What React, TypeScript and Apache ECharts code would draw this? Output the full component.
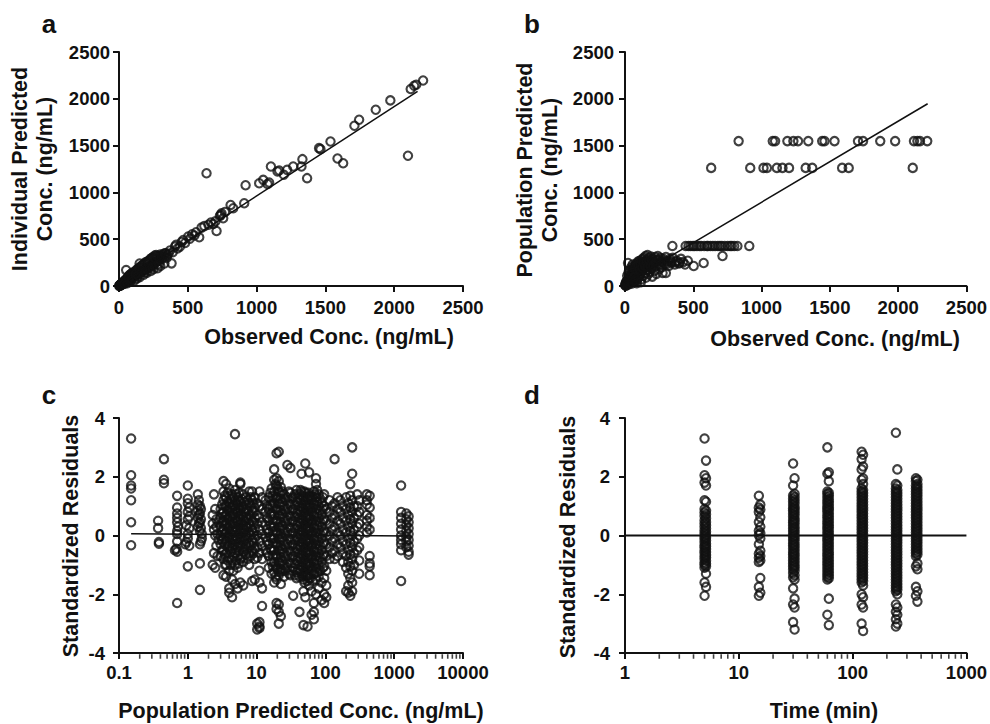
import React, { useEffect, useRef } from "react";
import * as echarts from "echarts";

// ---------- Panel a: Observed vs Individual Predicted ----------
const denseA: [number, number][] = [
  [2, 4], [3, 1], [5, 8], [6, 3], [8, 12], [10, 6], [12, 18], [14, 10], [15, 22], [18, 14], [20, 28], [22, 17],
  [25, 35], [27, 22], [30, 40], [32, 26], [35, 48], [38, 30], [40, 55], [42, 36], [45, 62], [48, 40], [50, 70],
  [52, 170], [55, 45], [58, 78], [60, 52], [62, 90], [65, 58], [68, 95], [70, 62], [72, 110], [75, 68], [78, 120],
  [80, 75], [85, 105], [88, 130], [90, 80], [95, 115], [98, 140], [100, 92], [105, 125], [110, 150], [112, 60],
  [115, 108], [120, 160], [125, 118], [130, 175], [135, 125], [140, 190], [145, 135], [150, 240], [152, 200],
  [155, 148], [160, 210], [165, 155], [170, 225], [175, 160], [180, 235], [185, 172], [190, 250], [195, 180],
  [200, 255], [205, 190], [210, 265], [215, 200], [220, 275], [225, 210], [230, 290], [235, 215], [240, 300],
  [245, 225], [250, 310], [255, 240], [260, 325], [265, 250], [270, 330], [275, 258], [280, 320], [290, 270],
  [300, 335], [310, 290], [320, 340], [330, 310], [340, 350], [350, 330], [360, 345],
  [60, 30], [80, 45], [130, 80], [150, 95], [180, 120], [200, 140], [230, 160], [250, 180], [280, 190], [300, 215], [330, 240],
  [40, 25], [70, 85], [95, 70], [120, 130], [140, 110], [170, 190], [190, 150], [215, 240], [240, 200], [265, 290], [290, 235],
  [310, 320], [345, 300], [370, 380], [390, 360], [415, 440], [425, 400], [455, 470], [480, 460],
];
const sparseA: [number, number][] = [
  [293, 307], [334, 349], [382, 242], [407, 421], [443, 421], [467, 492], [503, 528], [532, 553], [583, 521],
  [600, 624], [668, 678], [685, 663], [709, 588], [733, 749], [745, 777], [757, 724], [811, 866], [830, 831],
  [910, 884], [920, 1077], [636, 1205], [1019, 1098], [1048, 1134], [1080, 1090], [1091, 1105], [1104, 1277],
  [1152, 1223], [1164, 1234], [1198, 1188], [1222, 1241], [1266, 1277], [1326, 1277], [1333, 1355], [1367, 1152],
  [1454, 1473], [1464, 1462], [1537, 1544], [1588, 1362], [1629, 1312], [1711, 1712], [1745, 1776], [1866, 1883],
  [1972, 1983], [2100, 1391], [2120, 2105], [2145, 2140], [2160, 2150], [2210, 2195],
  [515, 505], [548, 540], [560, 575], [620, 640], [650, 655], [700, 690], [740, 760], [770, 790],
];
const fitLineA: [number, number][] = [[0, 5], [2170, 2080]];

// ---------- Panel b: Observed vs Population Predicted ----------
const clusterB: [number, number][] = [
  [2, 5], [3, 18], [4, 10], [5, 30], [6, 2], [8, 15], [9, 45], [10, 28], [12, 8], [14, 55], [15, 40], [18, 22],
  [20, 62], [22, 246], [24, 35], [26, 75], [28, 50], [30, 18], [32, 90], [35, 58], [38, 105], [40, 40], [42, 80],
  [45, 120], [48, 65], [50, 150], [52, 28], [55, 100], [58, 175], [60, 70], [62, 130], [65, 205], [68, 48],
  [70, 160], [72, 110], [75, 225], [78, 85], [80, 190], [82, 140], [85, 240], [88, 60], [90, 175], [92, 115],
  [95, 260], [98, 205], [100, 150], [102, 90], [105, 230], [108, 270], [110, 185], [112, 125], [115, 250],
  [118, 70], [120, 210], [125, 285], [128, 160], [130, 235], [135, 110], [138, 300], [140, 195], [145, 260],
  [148, 140], [150, 320], [152, 225], [155, 90], [160, 280], [162, 175], [165, 331], [168, 240], [170, 125],
  [175, 300], [178, 205], [180, 150], [185, 265], [190, 315], [192, 185], [195, 230], [200, 100], [205, 290],
  [210, 250], [215, 160], [220, 310], [225, 210], [230, 130], [235, 275], [240, 320], [245, 235], [250, 180],
  [258, 300], [265, 260], [270, 200], [275, 139], [280, 290], [290, 240], [299, 139], [300, 310], [310, 265],
  [320, 215], [330, 290], [340, 250], [350, 300], [365, 230], [380, 270], [395, 240], [410, 290], [425, 255],
  [440, 230], [460, 270], [503, 214], [576, 246], [714, 321],
  [16, 110], [25, 140], [36, 170], [46, 200], [56, 230], [66, 95], [76, 60], [86, 30], [96, 215], [106, 170],
  [116, 40], [126, 195], [136, 250], [146, 215], [156, 250], [166, 205], [176, 270], [186, 220], [196, 280],
  [206, 215], [226, 255], [246, 280], [262, 230], [285, 265], [305, 235], [335, 265], [370, 255], [400, 250],
];
const predLevelsB = [428, 1262, 1548];
const obsAtLevelsB: number[][] = [
  [347, 444, 465, 481, 498, 510, 527, 545, 558, 580, 600, 607, 625, 643, 660, 680, 695, 709, 730, 752, 770, 782, 800, 823, 910],
  [631, 917, 1014, 1039, 1112, 1153, 1201, 1323, 1371, 1590, 1638, 2107],
  [832, 1082, 1099, 1189, 1233, 1267, 1342, 1444, 1461, 1534, 1706, 1743, 1869, 1978, 2116, 2141, 2160, 2213],
];
const fitLineB: [number, number][] = [[0, 30], [2216, 1947]];

// ---------- Panel c: Standardized residuals vs Population Predicted ----------
const lowPredC: [number, number][] = [
  [0.15, 3.3], [0.15, 2.05], [0.15, 1.7], [0.15, 1.6], [0.15, 1.2], [0.15, 0.45], [0.15, -0.33],
  [0.37, 0.5], [0.37, 0.25], [0.38, -0.22], [0.38, -0.28], [0.45, 2.6], [0.45, 1.9], [0.45, 1.78],
  [0.65, -0.5], [0.7, 1.35], [0.7, 0.95], [0.7, 0.75], [0.7, 0.45], [0.7, 0.15], [0.7, -0.2], [0.7, -0.55],
  [0.7, -2.3], [0.72, 0.3], [0.68, -0.45], [0.7, 0.6], [0.7, 0.05],
  [0.92, -0.3], [0.95, 0.35], [0.95, -0.22], [1.0, 1.7], [1.0, 1.25], [1.0, 1.1], [1.0, 0.8], [1.0, 0.55],
  [1.0, 0.05], [1.0, -0.1], [1.0, -1.05], [1.05, 0.25], [1.05, -0.35], [1.05, 0.95], [1.05, 0.65],
  [1.4, 1.4], [1.4, 1.05], [1.4, 0.85], [1.4, 0.6], [1.4, 0.3], [1.5, 1.0], [1.5, 0.75], [1.5, 0.45],
  [1.5, 0.15], [1.5, -0.3], [1.5, -0.95], [1.5, -1.85], [1.55, 0.9], [1.55, -0.2], [1.6, 0.05],
  [1.45, 1.2], [1.45, 0.7], [1.45, 0.4], [1.55, 0.55], [1.55, 0.25], [1.6, -0.1],
  [2.3, 0.7], [2.3, 0.4], [2.3, -1.0], [2.4, 1.4], [2.4, 0.2], [2.4, -0.6], [2.5, -1.1], [2.6, 0.55],
  [2.6, -0.35], [2.7, 0.05], [2.7, -0.7], [2.5, 0.9], [2.5, 0.0], [2.6, 0.3], [2.8, 0.45], [2.8, -0.15],
];
const bandC: [number, number[]][] = [
  [3.0, [0.9, 0.6, 0.3, 0.0, -0.3, -0.7]],
  [3.3, [1.85, 1.5, 1.2, 0.8, 0.5, 0.2, -0.1, -0.5, -0.8, -1.35]],
  [3.6, [1.75, 1.3, 1.0, 0.7, 0.4, 0.1, -0.2, -0.6, -1.0, -1.4]],
  [4.0, [1.6, 1.1, 0.85, 0.55, 0.25, -0.05, -0.35, -0.75, -1.2, -1.8, -1.95]],
  [4.4, [1.4, 1.0, 0.7, 0.4, 0.15, -0.15, -0.45, -0.85, -1.5, -2.1]],
  [4.85, [3.45, 1.55, 1.2, 0.9, 0.6, 0.3, 0.0, -0.3, -0.6, -1.0, -1.65]],
  [5.3, [1.3, 1.05, 0.75, 0.45, 0.2, -0.1, -0.4, -0.7, -1.1, -1.8]],
  [5.8, [1.8, 1.75, 1.15, 0.85, 0.55, 0.25, -0.05, -0.35, -0.8, -1.6]],
  [6.4, [1.4, 1.0, 0.65, 0.35, 0.1, -0.2, -0.55, -0.9, -1.7]],
  [7.0, [1.3, 0.9, 0.6, 0.3, 0.0, -0.3, -0.65]],
  [7.8, [1.5, 1.1, 0.7, 0.4, 0.1, -0.25, -0.6, -1.0]],
  [8.6, [1.5, 1.2, 0.85, 0.5, 0.2, -0.15, -0.5, -1.55]],
  [9.4, [1.3, 0.95, 0.6, 0.25, -0.1, -0.45, -0.8, -1.5]],
  [10.2, [1.1, 0.7, 0.4, 0.0, -0.4, -0.75, -3.2, -3.0]],
  [11.0, [1.5, 1.0, 0.6, 0.2, -0.2, -0.6, -1.2, -1.6, -2.95, -3.15, -3.1]],
  [12.0, [1.3, 0.9, 0.45, 0.05, -0.35, -0.8, -1.8, -2.4]],
  [13.5, [1.2, 0.8, 0.35, -0.05, -0.5]],
  [15.0, [1.3, 0.9, 0.5, 0.1, -0.3, -0.7, -1.1]],
  [16.5, [1.6, 1.2, 0.75, 0.3, -0.1, -0.5, -0.9, -1.3]],
  [18.0, [2.25, 1.9, 1.5, 1.1, 0.7, 0.3, -0.1, -0.5, -0.9, -1.25, -1.6]],
  [19.5, [2.8, 1.95, 1.7, 1.3, 0.9, 0.5, 0.1, -0.3, -0.7, -1.1, -1.5, -2.3, -2.5]],
  [21.0, [2.85, 1.85, 1.5, 1.1, 0.7, 0.3, -0.1, -0.5, -0.9, -1.35, -2.35, -2.6, -3.0]],
  [22.5, [1.65, 1.25, 0.85, 0.45, 0.05, -0.35, -0.75, -1.15, -1.65, -2.75]],
  [25.0, [1.4, 1.0, 0.6, 0.2, -0.2, -0.6, -1.0, -1.4]],
  [28.0, [2.4, 1.3, 0.9, 0.5, 0.1, -0.3, -0.7, -1.1]],
  [31.0, [2.3, 1.45, 1.05, 0.65, 0.25, -0.15, -0.55, -0.95, -1.35]],
  [34.0, [1.3, 0.9, 0.5, 0.1, -0.3, -0.7, -1.1, -2.05]],
  [38.0, [1.55, 1.15, 0.75, 0.35, -0.05, -0.45, -0.85, -1.25, -1.45]],
  [42.0, [1.4, 1.0, 0.6, 0.2, -0.2, -0.6, -1.0, -1.4, -2.6]],
  [45.0, [2.1, 1.5, 1.1, 0.7, 0.3, -0.1, -0.5, -0.9, -1.3]],
  [48.0, [1.3, 0.9, 0.5, 0.1, -0.3, -0.7, -1.1, -1.5, -3.05, -1.9]],
  [51.0, [2.45, 1.45, 1.05, 0.65, 0.25, -0.15, -0.55, -0.95, -1.35, -2.1]],
  [55.0, [1.25, 0.85, 0.45, 0.05, -0.35, -0.75, -1.15, -1.55, -3.1]],
  [58.0, [2.15, 1.35, 0.95, 0.55, 0.15, -0.25, -0.65, -1.05, -1.45, -1.7]],
  [63.0, [1.2, 0.8, 0.4, 0.0, -0.4, -0.8, -1.2, -2.7, -1.9]],
  [68.0, [1.5, 1.1, 0.7, 0.3, -0.1, -0.5, -0.9, -1.3, -2.6, -2.85, -2.3]],
  [73.0, [1.95, 1.75, 1.3, 0.9, 0.5, 0.1, -0.3, -0.7, -1.1, -1.5, -2.0]],
  [80.0, [1.4, 1.0, 0.6, 0.2, -0.2, -0.6, -1.0, -1.4, -1.8]],
  [88.0, [1.1, 0.7, 0.3, -0.1, -0.5, -0.9, -1.6, -2.2]],
  [96.0, [1.4, 1.0, 0.55, 0.15, -0.25, -0.65, -1.05, -1.45, -2.0, -2.3]],
  [103, [0.9, 0.5, 0.1, -0.3, -0.7, -1.2, -1.7, -2.1]],
  [115, [1.2, 0.8, 0.4, 0.0, -0.4, -0.8]],
  [125, [1.0, 0.6, 0.2, -0.2, -0.6]],
  [136, [2.6, 1.1, 0.7, 0.3, -0.1, -0.5, -0.8]],
  [150, [1.3, 0.9, 0.5, 0.1, -0.3, -0.7]],
  [165, [1.2, 0.8, 0.4, 0.0, -0.4]],
  [180, [1.0, 0.6, 0.2, -0.2, -0.6, -0.9]],
  [200, [1.3, 0.9, 0.5, 0.1, -0.3, -0.7, -1.1, -1.9]],
  [215, [1.1, 0.7, 0.3, -0.1, -0.5, -0.9, -1.3, -1.95, -1.7]],
  [230, [1.75, 1.35, 0.95, 0.55, 0.15, -0.25, -0.65, -1.05, -1.45, -2.05]],
  [245, [3.0, 2.1, 1.2, 0.8, 0.4, 0.0, -0.4, -0.8, -1.2, -1.6, -1.9]],
  [260, [1.0, 0.6, 0.2, -0.2, -0.6, -1.0]],
  [290, [1.4, 1.0, 0.7, 0.3, -0.1, -0.5]],
  [310, [1.2, 0.8, 0.4, 0.0, -0.4, -0.85, -1.3]],
  [400, [1.4, 1.2, 1.05, 0.7, 0.5, 0.3, 0.1]],
  [440, [1.35, 0.95, 0.6, 0.2, -0.7, -0.95, -1.05, -1.35]],
  [1260, [1.7, 0.8, 0.6, 0.4, 0.2, 0.0, -0.15, -0.3, -0.5, -1.55]],
  [1500, [0.75, 0.55, 0.35, 0.15, -0.05, -0.2, -0.4]],
  [1620, [0.65, 0.45, 0.25, 0.05, -0.15, -0.35, -0.55, -0.65]],
];
const bandFillC: [number, number[]][] = [
  [3.15, [1.05, 0.75, 0.45, 0.15, -0.15, -0.5]],
  [3.45, [1.35, 1.0, 0.65, 0.35, 0.05, -0.3, -0.65, -1.0]],
  [3.8, [1.45, 1.15, 0.85, 0.55, 0.25, -0.05, -0.4, -0.85]],
  [4.2, [1.25, 0.95, 0.65, 0.35, 0.05, -0.25, -0.55, -1.0]],
  [4.6, [1.3, 1.05, 0.75, 0.45, 0.2, -0.1, -0.35, -0.7, -1.2]],
  [5.05, [1.4, 1.1, 0.8, 0.5, 0.15, -0.15, -0.5, -0.85]],
  [5.55, [1.45, 1.2, 0.95, 0.65, 0.35, 0.05, -0.25, -0.55, -0.95]],
  [6.1, [1.25, 0.95, 0.7, 0.45, 0.2, -0.1, -0.4, -0.75]],
  [6.7, [1.15, 0.8, 0.5, 0.2, -0.1, -0.45]],
  [7.4, [1.2, 0.85, 0.55, 0.25, -0.1, -0.45, -0.8]],
  [8.2, [1.3, 1.0, 0.65, 0.3, 0.0, -0.35, -0.7]],
  [9.0, [1.1, 0.8, 0.45, 0.1, -0.25, -0.6]],
  [14.2, [1.0, 0.6, 0.2, -0.2, -0.6]],
  [15.8, [1.45, 1.05, 0.7, 0.35, -0.05, -0.45]],
  [17.2, [1.35, 1.0, 0.55, 0.15, -0.25, -0.7, -1.05]],
  [18.8, [1.75, 1.3, 0.9, 0.5, 0.15, -0.25, -0.65, -1.05, -1.4]],
  [20.2, [1.6, 1.25, 0.85, 0.45, 0.05, -0.35, -0.75, -1.15]],
  [21.8, [1.45, 1.05, 0.65, 0.25, -0.15, -0.55, -0.95, -1.25]],
  [23.7, [1.5, 1.15, 0.75, 0.35, -0.05, -0.45, -0.85, -1.2]],
  [26.5, [1.2, 0.8, 0.4, 0.0, -0.4, -0.8, -1.2]],
  [29.5, [1.5, 1.1, 0.7, 0.3, -0.1, -0.5, -0.9, -1.3]],
  [32.5, [1.25, 0.85, 0.45, 0.05, -0.35, -0.75, -1.2]],
  [36.0, [1.4, 1.05, 0.65, 0.25, -0.15, -0.55, -0.95, -1.35]],
  [40.0, [1.25, 0.85, 0.45, 0.05, -0.35, -0.75, -1.15]],
  [43.5, [1.55, 1.2, 0.8, 0.4, 0.0, -0.4, -0.8, -1.2]],
  [46.5, [1.35, 0.95, 0.55, 0.15, -0.25, -0.65, -1.05, -1.4]],
  [49.5, [1.5, 1.15, 0.75, 0.35, -0.05, -0.45, -0.85, -1.25, -1.6]],
  [53.0, [1.3, 0.95, 0.6, 0.2, -0.2, -0.6, -1.0, -1.4]],
  [56.5, [1.45, 1.05, 0.65, 0.25, -0.15, -0.55, -0.95, -1.35]],
  [60.5, [1.35, 1.0, 0.6, 0.2, -0.2, -0.6, -1.0, -1.45]],
  [65.5, [1.3, 0.95, 0.5, 0.1, -0.3, -0.7, -1.1, -1.55]],
  [70.5, [1.4, 1.05, 0.65, 0.25, -0.15, -0.55, -0.95, -1.3]],
  [76.0, [1.55, 1.15, 0.75, 0.35, -0.05, -0.45, -0.85, -1.25]],
  [84.0, [1.25, 0.85, 0.45, 0.05, -0.35, -0.75, -1.2]],
  [92.0, [1.3, 0.9, 0.5, 0.1, -0.3, -0.7, -1.1]],
];
const trendLineC: [number, number][] = [[0.15, 0.057], [1680, -0.02]];

// ---------- Panel d: Standardized residuals vs Time ----------
// each nominal time has two recorded sampling times (slightly different)
const timesD: [number, number][] = [[5, 5.15], [15, 15.45], [30, 30.9], [60, 61.8], [120, 123.6], [240, 247], [360, 371]];
const residByTimeD: number[][] = [
  [3.3, 2.55, 2.05, 1.95, 1.8, 1.7, 1.2, 1.15, 0.9, 0.84, 0.78, 0.72, 0.66, 0.59, 0.52, 0.46, 0.41, 0.35, 0.3, 0.24, 0.18, 0.13, 0.08, 0.02, -0.03, -0.08, -0.12, -0.17, -0.22, -0.28, -0.33, -0.37, -0.41, -0.46, -0.52, -0.56, -0.6, -0.66, -0.71, -0.75, -0.8, -0.86, -0.92, -0.96, -1.0, -1.05, -1.1, -1.3, -1.6, -1.75, -2.05],
  [1.35, 1.05, 0.95, 0.88, 0.8, 0.62, 0.46, 0.3, 0.16, 0.08, 0.02, -0.1, -0.3, -0.52, -0.62, -0.7, -0.76, -0.85, -0.9, -1.45, -1.75, -1.95, -2.05],
  [2.45, 1.95, 1.7, 1.42, 1.36, 1.31, 1.25, 1.2, 1.15, 1.1, 1.04, 0.98, 0.93, 0.89, 0.84, 0.79, 0.74, 0.7, 0.64, 0.58, 0.53, 0.49, 0.44, 0.4, 0.35, 0.29, 0.25, 0.2, 0.15, 0.1, 0.05, -0.01, -0.05, -0.1, -0.15, -0.2, -0.26, -0.31, -0.35, -0.4, -0.45, -0.5, -0.56, -0.61, -0.65, -0.7, -0.75, -0.8, -0.85, -0.9, -0.95, -1.01, -1.05, -1.1, -1.15, -1.2, -1.28, -1.35, -1.42, -1.5, -1.8, -2.15, -2.35, -2.45, -2.95, -3.2],
  [3.0, 2.15, 2.1, 1.85, 1.5, 1.45, 1.41, 1.35, 1.3, 1.24, 1.19, 1.15, 1.1, 1.05, 0.99, 0.95, 0.9, 0.86, 0.81, 0.75, 0.7, 0.65, 0.6, 0.55, 0.49, 0.45, 0.4, 0.35, 0.3, 0.26, 0.21, 0.15, 0.1, 0.05, 0.0, -0.05, -0.1, -0.14, -0.19, -0.25, -0.3, -0.35, -0.4, -0.45, -0.5, -0.56, -0.61, -0.65, -0.7, -0.75, -0.8, -0.85, -0.9, -0.95, -1.0, -1.05, -1.1, -1.15, -1.2, -1.25, -1.3, -1.35, -1.4, -1.45, -1.5, -2.15, -2.7, -3.05],
  [2.85, 2.75, 2.6, 2.35, 2.25, 1.95, 1.9, 1.75, 1.6, 1.55, 1.5, 1.45, 1.4, 1.35, 1.3, 1.25, 1.2, 1.15, 1.1, 1.05, 1.0, 0.95, 0.9, 0.85, 0.8, 0.75, 0.7, 0.65, 0.6, 0.55, 0.5, 0.45, 0.4, 0.35, 0.3, 0.25, 0.2, 0.15, 0.1, 0.05, 0.0, -0.05, -0.1, -0.15, -0.2, -0.25, -0.3, -0.35, -0.4, -0.45, -0.5, -0.55, -0.6, -0.65, -0.7, -0.75, -0.8, -0.85, -0.9, -0.95, -1.0, -1.05, -1.1, -1.15, -1.2, -1.25, -1.3, -1.35, -1.4, -1.45, -1.5, -1.55, -1.6, -1.7, -2.0, -2.1, -2.35, -2.45, -3.0, -3.25],
  [3.5, 2.25, 1.75, 1.7, 1.6, 1.55, 1.5, 1.45, 1.4, 1.35, 1.3, 1.25, 1.2, 1.15, 1.1, 1.05, 1.0, 0.95, 0.9, 0.85, 0.8, 0.75, 0.7, 0.65, 0.6, 0.55, 0.5, 0.45, 0.4, 0.35, 0.3, 0.25, 0.2, 0.15, 0.1, 0.05, 0.0, -0.05, -0.1, -0.15, -0.2, -0.25, -0.3, -0.35, -0.4, -0.45, -0.5, -0.55, -0.6, -0.65, -0.7, -0.75, -0.8, -0.85, -0.9, -0.95, -1.0, -1.05, -1.1, -1.15, -1.2, -1.25, -1.3, -1.35, -1.4, -1.45, -1.5, -1.55, -1.6, -1.65, -1.7, -1.75, -1.8, -1.85, -1.9, -2.0, -2.35, -2.45, -2.6, -2.7, -2.85, -3.0, -3.1],
  [1.95, 1.9, 1.85, 1.75, 1.7, 1.65, 1.6, 1.55, 1.5, 1.45, 1.4, 1.35, 1.3, 1.25, 1.2, 1.15, 1.1, 1.05, 1.0, 0.95, 0.9, 0.85, 0.8, 0.75, 0.7, 0.65, 0.6, 0.55, 0.5, 0.45, 0.4, 0.35, 0.3, 0.25, 0.2, 0.15, 0.1, 0.05, 0.0, -0.05, -0.1, -0.15, -0.2, -0.25, -0.3, -0.35, -0.4, -0.45, -0.5, -0.55, -0.6, -0.65, -0.7, -0.95, -1.05, -1.15, -1.75, -1.9, -2.05, -2.25],
];
const zeroLineD: [number, number][] = [[1, 0], [1000, 0]];

// ---------- Axis decorations ----------
const minorMultipliers = [2, 3, 4, 5, 6, 7, 8, 9];
const decadesC = [0.1, 1, 10, 100, 1000];
const decadesD = [1, 10, 100];

const INK = "#111111";
const FONT = "'Liberation Sans', Arial, sans-serif";

function fmtNum(v: number) {
  if (Math.abs(v) < 1 && v !== 0) return String(+v.toFixed(2));
  return String(Math.round(v));
}

function axisBase(gridIndex: number, margin: number) {
  return {
    gridIndex,
    axisLine: { show: true, onZero: false, lineStyle: { color: INK, width: 2 } },
    axisTick: { show: true, length: 6, inside: false, lineStyle: { color: INK, width: 2 } },
    splitLine: { show: false },
    minorTick: { show: false },
    axisLabel: {
      color: INK,
      fontFamily: FONT,
      fontWeight: "bold" as const,
      fontSize: 18.5,
      margin,
      formatter: fmtNum,
    },
  };
}

const circleStyle = {
  type: "scatter" as const,
  symbol: "circle",
  symbolSize: 8.4,
  itemStyle: { color: "rgba(0,0,0,0)", borderColor: INK, borderWidth: 2.1 },
  silent: true,
  clip: false,
};

function label(x: number, y: number, text: string, size: number, rotation = 0) {
  return {
    type: "text",
    x,
    y,
    rotation,
    silent: true,
    style: {
      text,
      fill: INK,
      font: `bold ${size}px ${FONT}`,
      textAlign: "center",
      textVerticalAlign: "middle",
      align: "center",
      verticalAlign: "middle",
      lineHeight: 25,
    },
  };
}

export default function App() {
  const ref = useRef<HTMLDivElement>(null);

  useEffect(() => {
    if (!ref.current) return;
    const chart = echarts.init(ref.current, undefined, { renderer: "svg" });

    const minorC: [number, number][] = [];
    decadesC.forEach((d) => minorMultipliers.forEach((m) => minorC.push([d * m, -4])));
    const minorD: [number, number][] = [];
    decadesD.forEach((d) => minorMultipliers.forEach((m) => minorD.push([d * m, -4])));

    const levelPointsB: [number, number][] = [];
    predLevelsB.forEach((lvl, i) => obsAtLevelsB[i].forEach((o) => levelPointsB.push([o, lvl])));

    const bandPointsC: [number, number][] = [];
    bandC.forEach(([x, ys]) => ys.forEach((y) => bandPointsC.push([x, y])));
    bandFillC.forEach(([x, ys]) => ys.forEach((y) => bandPointsC.push([x, y])));

    const pointsD: [number, number][] = [];
    timesD.forEach((ts, i) => residByTimeD[i].forEach((r, j) => pointsD.push([ts[j % 2], r])));

    const lineStyle = (w: number) => ({
      type: "line" as const,
      symbol: "none",
      silent: true,
      lineStyle: { color: INK, width: w },
      clip: false,
    });

    const tickMarks = (xAxisIndex: number, yAxisIndex: number, data: [number, number][]) => ({
      type: "scatter" as const,
      xAxisIndex,
      yAxisIndex,
      data,
      symbol: "rect",
      symbolSize: [1.6, 4.5],
      symbolOffset: [0, 3.5],
      itemStyle: { color: INK },
      silent: true,
      clip: false,
      z: 5,
    });

    chart.setOption({
      animation: false,
      backgroundColor: "#ffffff",
      grid: [
        { left: 119, top: 52, width: 344, height: 234 },
        { left: 625, top: 52, width: 343, height: 234 },
        { left: 119, top: 418, width: 344, height: 235 },
        { left: 625, top: 418, width: 343, height: 235 },
      ],
      xAxis: [
        { ...axisBase(0, 12), type: "value", min: 0, max: 2500, interval: 500 },
        { ...axisBase(1, 12), type: "value", min: 0, max: 2500, interval: 500 },
        { ...axisBase(2, 10), type: "log", logBase: 10, min: 0.1, max: 10000 },
        { ...axisBase(3, 10), type: "log", logBase: 10, min: 1, max: 1000 },
      ],
      yAxis: [
        { ...axisBase(0, 9), type: "value", min: 0, max: 2500, interval: 500 },
        { ...axisBase(1, 11), type: "value", min: 0, max: 2500, interval: 500 },
        { ...axisBase(2, 14), type: "value", min: -4, max: 4, interval: 2 },
        { ...axisBase(3, 15), type: "value", min: -4, max: 4, interval: 2 },
      ],
      series: [
        { ...circleStyle, xAxisIndex: 0, yAxisIndex: 0, data: denseA },
        { ...circleStyle, xAxisIndex: 0, yAxisIndex: 0, data: sparseA },
        { ...lineStyle(1.5), xAxisIndex: 0, yAxisIndex: 0, data: fitLineA },

        { ...circleStyle, xAxisIndex: 1, yAxisIndex: 1, data: clusterB },
        { ...circleStyle, xAxisIndex: 1, yAxisIndex: 1, data: levelPointsB },
        { ...lineStyle(1.5), xAxisIndex: 1, yAxisIndex: 1, data: fitLineB },

        { ...circleStyle, xAxisIndex: 2, yAxisIndex: 2, data: lowPredC },
        { ...circleStyle, xAxisIndex: 2, yAxisIndex: 2, data: bandPointsC },
        { ...lineStyle(1.5), xAxisIndex: 2, yAxisIndex: 2, data: trendLineC },
        tickMarks(2, 2, minorC),

        { ...circleStyle, xAxisIndex: 3, yAxisIndex: 3, data: pointsD },
        { ...lineStyle(2), xAxisIndex: 3, yAxisIndex: 3, data: zeroLineD },
        tickMarks(3, 3, minorD),
      ],
      graphic: [
        label(49, 24, "a", 26),
        label(532, 24, "b", 26),
        label(49, 395, "c", 26),
        label(532, 395, "d", 26),
        label(32, 169, "Individual Predicted\nConc. (ng/mL)", 21.5, Math.PI / 2),
        label(537, 170, "Population Predicted\nConc. (ng/mL)", 21.5, Math.PI / 2),
        label(71, 536, "Standardized Residuals", 21.5, Math.PI / 2),
        label(568, 537, "Standardized Residuals", 21.5, Math.PI / 2),
        label(329, 337, "Observed Conc. (ng/mL)", 21.5),
        label(835, 339, "Observed Conc. (ng/mL)", 21.5),
        label(301, 711, "Population Predicted Conc. (ng/mL)", 21.5),
        label(824, 711, "Time (min)", 21.5),
      ],
    });

    return () => chart.dispose();
  }, []);

  return (
    <div
      ref={ref}
      style={{ position: "fixed", left: 0, top: 0, width: 990, height: 724, background: "#fff" }}
    />
  );
}
